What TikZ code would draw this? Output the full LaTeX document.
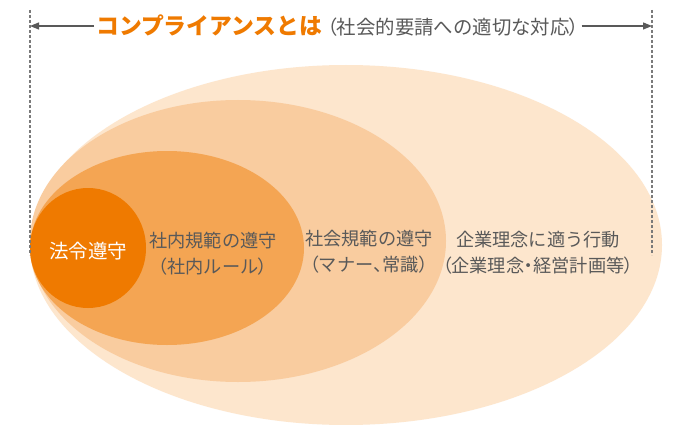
\documentclass[tikz,border=0pt]{standalone}
\usepackage{fontspec}
\setmainfont{Noto Sans CJK JP}
\newfontfamily\jpp[RawFeature=+palt]{Noto Sans CJK JP}
\newcommand\LP{{\jpp （}}
\newcommand\RP{{\jpp ）}}
\newcommand\PT[1]{{\jpp #1}}
\usetikzlibrary{arrows.meta}
\definecolor{c1}{HTML}{EF7A00}
\definecolor{c2}{HTML}{F4A553}
\definecolor{c3}{HTML}{F9CC9F}
\definecolor{c4}{HTML}{FDE6CD}
\definecolor{txt}{HTML}{595959}
\tikzset{
  guide/.style={draw=txt!80, line width=1.4pt, dash pattern=on 3pt off 2pt},
  arr/.style={draw=txt, line width=1.2pt, -{Triangle[length=9pt,width=7pt]}},
  lbl/.style={text=txt, font=\fontsize{18.2}{21}\selectfont, align=center, inner sep=0pt},
}
\begin{document}
\begin{tikzpicture}[x=1pt,y=-1pt]
\useasboundingbox (0,0) rectangle (687,425);
\fill[white] (0,0) rectangle (687,425);
% ellipses
\fill[c4] (346,245) ellipse (316pt and 180pt);
\fill[c3] (238,241) ellipse (208pt and 141pt);
\fill[c2] (167,248) ellipse (137pt and 97pt);
\fill[c1] (88,248) ellipse (58pt and 60pt);
% guides
\coordinate (Ltop) at (30,10);
\coordinate (Lbot) at (30,255);
\coordinate (Rtop) at (652,10);
\coordinate (Rbot) at (652,255);
\coordinate (L) at (30,26);
\coordinate (R) at (652,26);
\draw[guide] (Ltop) -- (Lbot);
\draw[guide] (Rtop) -- (Rbot);
% title
\node[inner sep=2pt, anchor=west] (title) at (94,26)
  {{\color{c1}\bfseries\fontsize{22.8}{24}\selectfont コンプライアンスとは}%
   \hspace{5pt}{\color{txt}\fontsize{19.4}{20}\selectfont \LP 社会的要請への適切な対応\RP}};
\draw[arr] (title.west) -- (L);
\draw[arr] (title.east) -- (R);
% labels
\node[lbl, text=white, font=\fontsize{19.5}{22}\selectfont] (law) at (88,251) {法令遵守};
\node[lbl] (inner) at (213,254) {社内規範の遵守\\[5pt]\LP 社内ルール\RP};
\node[lbl] (social) at (369,252) {社会規範の遵守\\[5pt]\LP マナー\PT{、}常識\RP};
\node[lbl] (corp) at (538,253) {企業理念に適う行動\\[5pt]\LP 企業理念\PT{・}経営計画等\RP};
\end{tikzpicture}
\end{document}
